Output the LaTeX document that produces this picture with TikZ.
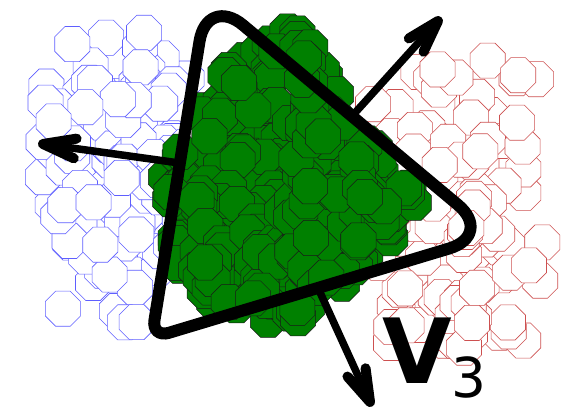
\documentclass[tikz,border=0pt]{standalone}
\usepackage{fontspec}
\setmainfont{DejaVu Sans}
\usepackage{xcolor}
\definecolor{cloudblue}{RGB}{95, 95, 255}
\definecolor{cloudred}{RGB}{205, 80, 80}
\definecolor{cloudgreen}{RGB}{0, 128, 0}
\usepackage{tikz}
\usetikzlibrary{shapes.geometric, calc}

% green octagons spread over one triangle of the patch
\newcommand\greenpatch[8]{%
  \foreach \k in {1,...,#1}{%
    \pgfmathsetmacro\su{sqrt(rnd)}%
    \pgfmathsetmacro\sv{rnd}%
    \node[gdot] (#8\k) at ({(1-\su)*#2+\su*(1-\sv)*#4+\su*\sv*#6},{(1-\su)*#3+\su*(1-\sv)*#5+\su*\sv*#7}) {};
  }}

\begin{document}
\begin{tikzpicture}[x=1pt, y=-1pt,
  oct/.style={regular polygon, regular polygon sides=8, minimum size=38pt, inner sep=0pt},
  bdot/.style={oct, draw=cloudblue, fill=white, line width=0.6pt},
  rdot/.style={oct, draw=cloudred, fill=white, line width=0.6pt},
  gdot/.style={oct, draw=black!90, fill=cloudgreen, line width=0.5pt},
  vec/.style={line width=7.5pt},
  barb/.style={line width=10pt, line cap=round, line join=round},
  tri/.style={line width=12pt}]
\useasboundingbox (0,0) rectangle (575,411);
\pgfmathsetseed{11}

% blue cloud
\foreach \k in {1,...,150}{
  \node[bdot] (b\k) at ({128+52*(rand+rand)},{175+80*(rand+rand)}) {};
}

% red cloud
\foreach \k in {1,...,140}{
  \node[rdot] (r\k) at ({452+52*(rand+rand)},{205+80*(rand+rand)}) {};
}

% green cloud
\greenpatch{30}{290}{200}{298}{28}{235}{45}{ga}
\greenpatch{55}{290}{200}{235}{45}{158}{190}{gb}
\greenpatch{30}{290}{200}{158}{190}{175}{270}{gc}
\greenpatch{20}{290}{200}{175}{270}{215}{305}{gd}
\greenpatch{28}{290}{200}{215}{305}{290}{328}{ge}
\greenpatch{50}{290}{200}{290}{328}{428}{215}{gf}
\greenpatch{70}{290}{200}{428}{215}{298}{28}{gg}

% simplex
\coordinate (A) at (207,-5);
\coordinate (B) at (151.6,338);
\coordinate (C) at (494,235);
\coordinate (mAB) at ($(A)!0.49!(B)$);
\coordinate (mAC) at ($(A)!0.505!(C)$);
\coordinate (mBC) at ($(B)!0.486!(C)$);

% arrows
\coordinate (tipL) at (43,144);
\coordinate (tipT) at (438,21);
\coordinate (tipB) at (370,402);
\foreach \e/\t in {mAB/tipL, mAC/tipT, mBC/tipB}{
  \draw[vec] (\e) -- (\t);
  \draw[barb] ($(\t)!34pt!17:(\e)$) -- (\t) -- ($(\t)!34pt!-17:(\e)$);
}

\draw[tri] (mBC) [rounded corners=18pt] -- (B) -- (mAB) [rounded corners=47pt] -- (A) -- (C) -- cycle;

\node[anchor=base west, inner sep=0pt, font=\fontsize{90}{90}\selectfont] (lab) at (382,383) {\textbf{V}\raisebox{-14pt}{\fontsize{55}{55}\selectfont 3}};
\end{tikzpicture}
\end{document}
